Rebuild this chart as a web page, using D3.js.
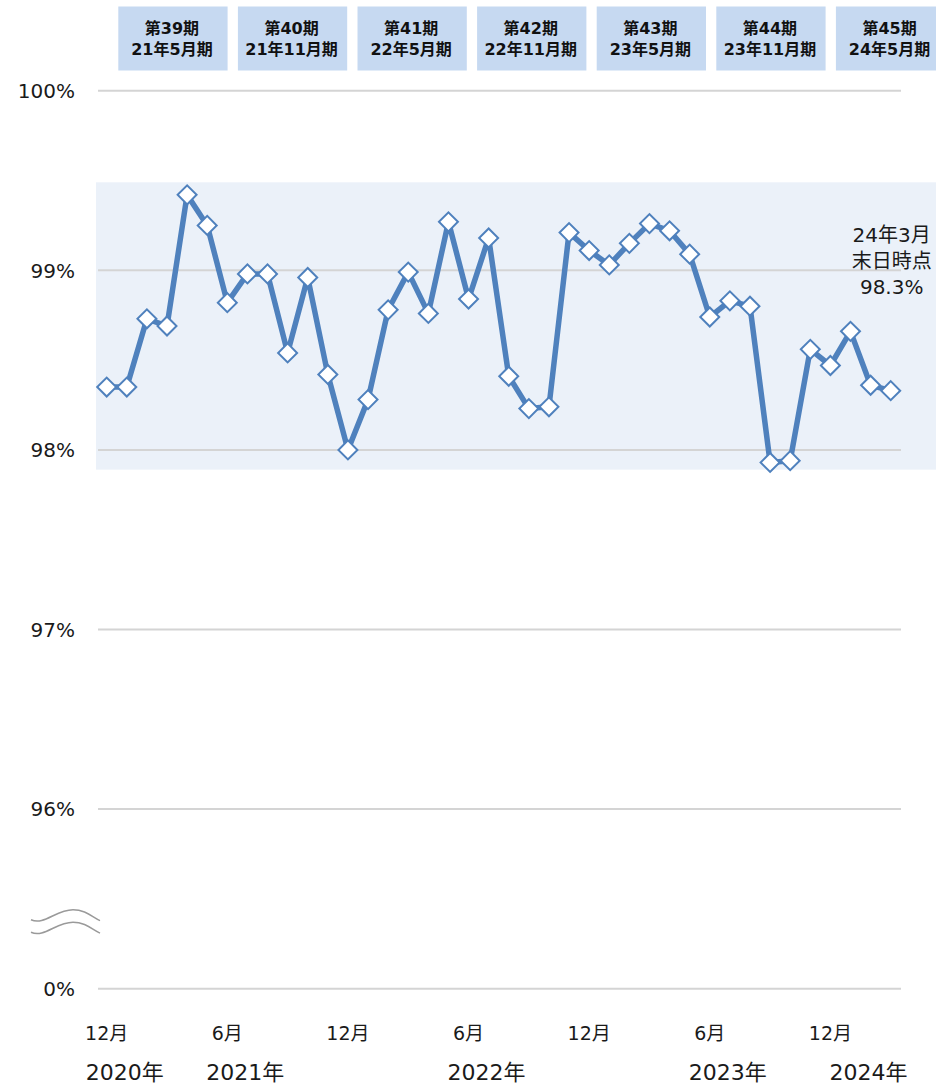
<!DOCTYPE html>
<html>
<head>
<meta charset="utf-8">
<script src="https://cdn.jsdelivr.net/npm/d3@7"></script>
<style>
  html, body { margin: 0; padding: 0; background: #fff; }
  svg { display: block; font-family: "DejaVu Sans", "Noto Sans CJK JP", sans-serif; }
</style>
</head>
<body>
<svg id="chart" width="936" height="1086"></svg>
<script>
// ---- data ----
const months = [
  "2020-12","2021-01","2021-02","2021-03","2021-04","2021-05","2021-06","2021-07","2021-08","2021-09","2021-10","2021-11",
  "2021-12","2022-01","2022-02","2022-03","2022-04","2022-05","2022-06","2022-07","2022-08","2022-09","2022-10","2022-11",
  "2022-12","2023-01","2023-02","2023-03","2023-04","2023-05","2023-06","2023-07","2023-08","2023-09","2023-10","2023-11",
  "2023-12","2024-01","2024-02","2024-03"
];
const occupancy = [
  98.35, 98.35, 98.73, 98.69, 99.42, 99.25, 98.82, 98.98, 98.98, 98.54, 98.96, 98.42,
  98.00, 98.28, 98.78, 98.99, 98.76, 99.27, 98.84, 99.18, 98.41, 98.23, 98.24, 99.21,
  99.11, 99.03, 99.15, 99.26, 99.22, 99.09, 98.74, 98.83, 98.80, 97.93, 97.94, 98.56,
  98.47, 98.66, 98.36, 98.33
];
const yTickValues = [95, 96, 97, 98, 99, 100];
const yTickLabels = ["0%", "96%", "97%", "98%", "99%", "100%"];
const monthTicks = ["2020-12","2021-06","2021-12","2022-06","2022-12","2023-06","2023-12"];
const monthTickLabels = ["12月","6月","12月","6月","12月","6月","12月"];
const yearTicks = ["2020-12","2021-06","2022-06","2023-06","2024-01"];
const yearTickLabels = ["2020年","2021年","2022年","2023年","2024年"];
const periodNames = ["第39期","第40期","第41期","第42期","第43期","第44期","第45期"];
const periodEnds = ["21年5月期","21年11月期","22年5月期","22年11月期","23年5月期","23年11月期","24年5月期"];
const highlightRange = [97.89, 99.49];
const annotationLines = ["24年3月","末日時点","98.3%"];

// ---- layout ----
const W = 936, H = 1086;
const svg = d3.select("#chart");
const x = d3.scalePoint().domain(months).range([106.7, 890.7]);
const y = d3.scaleLinear().domain([95, 100]).range([988.7, 90.7]);
const periodX = d3.scaleBand().domain(periodNames).range([118.3, 945.2]).paddingInner(0.0862).paddingOuter(0);

const LINE = "#4F81BD";
const TEXT = "#1a1a1a";

// highlight band
svg.append("rect")
  .attr("x", 96).attr("width", W - 96)
  .attr("y", y(highlightRange[1]))
  .attr("height", y(highlightRange[0]) - y(highlightRange[1]))
  .attr("fill", "#EBF1F9");

// gridlines
svg.append("g").selectAll("line").data(yTickValues).join("line")
  .attr("x1", 98).attr("x2", 901)
  .attr("y1", d => y(d)).attr("y2", d => y(d))
  .attr("stroke", "#D4D4D4").attr("stroke-width", 2);

// y labels
svg.append("g").selectAll("text").data(yTickValues).join("text")
  .attr("x", 75).attr("y", d => y(d))
  .attr("dy", "0.36em")
  .attr("text-anchor", "end")
  .attr("font-size", 20)
  .attr("fill", TEXT)
  .text((d, i) => yTickLabels[i]);

// axis break symbol
const by = y(95) - 69;
const wave = (o) => `M31,${by + o} C44,${by + o + 6} 56,${by + o - 10} 73,${by + o - 10} C85,${by + o - 10} 92,${by + o - 3} 100,${by + o + 1}`;
svg.append("g").selectAll("path").data([0, 12.5]).join("path")
  .attr("d", d => wave(d))
  .attr("fill", "none").attr("stroke", "#9a9a9a").attr("stroke-width", 1.5);

// period boxes
const pg = svg.append("g").selectAll("g").data(periodNames).join("g");
pg.append("rect")
  .attr("x", d => periodX(d)).attr("width", periodX.bandwidth())
  .attr("y", 6.5).attr("height", 64)
  .attr("fill", "#C6D9F1");
pg.append("text")
  .attr("x", d => periodX(d) + periodX.bandwidth() / 2 - 1)
  .attr("y", 34)
  .attr("text-anchor", "middle").attr("font-size", 16).attr("font-weight", "bold").attr("fill", "#111")
  .text(d => d);
pg.append("text")
  .attr("x", d => periodX(d) + periodX.bandwidth() / 2 - 1)
  .attr("y", 55)
  .attr("text-anchor", "middle").attr("font-size", 16).attr("font-weight", "bold").attr("fill", "#111")
  .text((d, i) => periodEnds[i]);

// line
const data = months.map((m, i) => ({ m, v: occupancy[i] }));
svg.append("path")
  .datum(data)
  .attr("d", d3.line().x(d => x(d.m)).y(d => y(d.v)))
  .attr("fill", "none").attr("stroke", LINE).attr("stroke-width", 5.5).attr("stroke-linejoin", "round");

// markers
const diamond = d3.symbol().type(d3.symbolSquare).size(180);
svg.append("g").selectAll("path").data(data).join("path")
  .attr("d", diamond)
  .attr("transform", d => `translate(${x(d.m)},${y(d.v)}) rotate(45)`)
  .attr("fill", "#fff").attr("stroke", LINE).attr("stroke-width", 2);

// month labels
svg.append("g").selectAll("text").data(monthTicks).join("text")
  .attr("x", d => x(d)).attr("y", 1040)
  .attr("text-anchor", "middle").attr("font-size", 19).attr("fill", TEXT)
  .text((d, i) => monthTickLabels[i]);

// year labels
svg.append("g").selectAll("text").data(yearTicks).join("text")
  .attr("x", d => x(d) - 21).attr("y", 1080)
  .attr("text-anchor", "start").attr("font-size", 22).attr("fill", TEXT)
  .text((d, i) => yearTickLabels[i]);

// annotation
const last = data[data.length - 1];
svg.append("g").selectAll("text").data(annotationLines).join("text")
  .attr("x", x(last.m) + 1).attr("y", (d, i) => 242 + i * 26)
  .attr("text-anchor", "middle").attr("font-size", 20).attr("fill", TEXT)
  .text(d => d);
</script>
</body>
</html>
